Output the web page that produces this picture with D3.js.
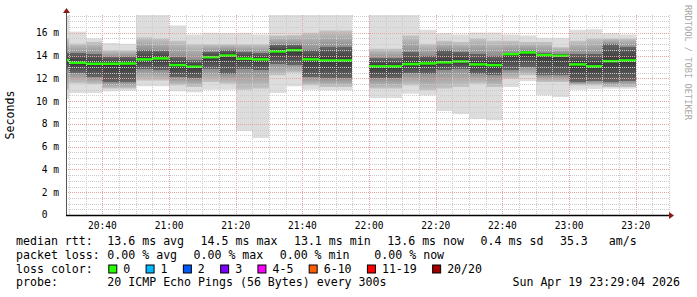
<!DOCTYPE html>
<html>
<head>
<meta charset="utf-8">
<script src="https://cdn.jsdelivr.net/npm/d3@7"></script>
<style>
  body { margin: 0; background: #fff; }
  text { font-family: "DejaVu Sans Mono", monospace; white-space: pre; }
</style>
</head>
<body>
<div id="chart"></div>
<script>
// one column per 5 minute step (start time), 21:55 has no data
var times  = ["20:25","20:30","20:35","20:40","20:45","20:50","20:55","21:00","21:05","21:10","21:15","21:20","21:25","21:30","21:35","21:40","21:45","21:50",
              "22:00","22:05","22:10","22:15","22:20","22:25","22:30","22:35","22:40","22:45","22:50","22:55","23:00","23:05","23:10","23:15"];
// rtt in ms
var minRtt = [10.2,10.7,10.7,10.86,10.92,11.3,11.3,10.86,10.77,11.0,11.0,7.38,6.77,10.71,11.3,11.0,10.95,10.95,
              10.27,10.27,10.65,10.5,9.13,8.87,8.43,8.32,11.24,11.76,10.5,10.36,11.0,11.06,11.09,11.09];
var p10    = [11.0,11.55,11.5,11.1,11.1,11.8,11.8,11.38,11.24,11.67,11.53,11.0,11.1,12.26,12.5,11.38,11.24,11.24,
              11.1,11.1,11.38,10.95,11.1,11.24,11.53,11.24,11.97,12.26,11.67,11.67,11.38,11.38,11.24,11.24];
var p30    = [12.8,12.5,12.1,11.67,11.7,12.85,12.7,12.1,12.0,12.85,12.4,12.85,12.7,13.3,13.2,12.1,12.0,12.0,
              12.0,12.0,12.43,12.4,12.7,12.85,12.4,12.26,12.7,13.0,12.26,12.26,11.67,11.8,11.67,11.8];
var median = [13.6,13.37,13.28,13.28,13.3,13.66,13.75,13.16,13.02,13.86,14.0,13.72,13.66,14.36,14.47,13.66,13.57,13.57,
              13.05,13.05,13.25,13.31,13.4,13.48,13.22,13.16,14.12,14.27,14.04,13.98,13.22,13.05,13.51,13.57];
var p70    = [14.2,14.2,14.15,13.86,13.9,14.45,14.36,13.86,13.57,14.3,14.45,14.3,14.2,14.9,14.9,14.45,14.74,14.74,
              13.75,13.75,14.27,14.0,14.45,14.3,14.15,14.0,14.25,14.4,14.2,14.15,14.15,14.15,15.0,14.74];
var p90    = [15.5,15.05,15.2,14.45,14.45,15.6,15.5,15.3,15.0,15.0,15.0,15.0,15.0,15.76,15.8,16.0,16.2,16.2,
              14.6,14.6,15.76,15.03,15.3,15.2,15.5,15.3,15.3,15.2,15.2,14.74,15.3,15.5,15.5,15.5];
var maxRtt = [17.5,16.1,15.5,15.1,15.03,17.8,17.8,16.64,15.85,16.0,15.97,16.0,15.85,17.8,17.8,17.8,17.8,17.8,
              17.8,17.8,17.8,16.26,15.97,15.85,16.02,16.02,15.85,15.76,15.56,15.56,16.26,16.31,15.97,15.85];

var yTicks = [0, 2, 4, 6, 8, 10, 12, 14, 16];
var yTickLabels = ["0  ", "2 m", "4 m", "6 m", "8 m", "10 m", "12 m", "14 m", "16 m"];

var lossLabels = ["0", "1", "2", "3", "4-5", "6-10", "11-19", "20/20"];
var lossColors = ["#26ff00", "#00b8ff", "#0059ff", "#7e00ff", "#ff00ff", "#ff5e00", "#ff0000", "#a10000"];

var rttLegend  = ["13.6 ms avg", "14.5 ms max", "13.1 ms min", "13.6 ms now", "0.4 ms sd", "35.3   am/s"];
var lossLegend = ["0.00 % avg", "0.00 % max", "0.00 % min", "0.00 % now"];
var probeText  = "20 ICMP Echo Pings (56 Bytes) every 300s";
var stampText  = "Sun Apr 19 23:29:04 2026";

var width = 697, height = 297,
    plot = {left: 66, right: 666, top: 15, bottom: 215, gridRight: 669},
    step = 5 * 60 * 1000;

var day = "2026-04-19T";
var parse = t => new Date(day + t + ":00");
var tStart = new Date(day + "20:29:04"), tEnd = new Date(day + "23:29:04");

var svg = d3.select("#chart").append("svg")
    .attr("width", width).attr("height", height)
    .style("background", "#fff");

var x = d3.scaleTime().domain([tStart, tEnd]).range([plot.left, plot.right]);
var y = d3.scaleLinear().domain([0, 17.56]).range([plot.bottom, plot.top]);

svg.append("clipPath").attr("id", "clip")
  .append("rect").attr("x", plot.left + 1).attr("y", plot.top)
  .attr("width", plot.gridRight - plot.left).attr("height", plot.bottom - plot.top);

var defs = svg.append("defs");
var cols = times.map((t, i) => ({
  t0: parse(t), min: minRtt[i], p10: p10[i], p30: p30[i], med: median[i], p70: p70[i], p90: p90[i], max: maxRtt[i], i: i
}));

// gradient per column for the inner smoke (p90 at top, p10 at bottom)
cols.forEach(d => {
  var span = y(d.p10) - y(d.p90);
  var f = v => (y(v) - y(d.p90)) / span;
  var g = defs.append("linearGradient").attr("id", "smoke" + d.i)
    .attr("x1", 0).attr("y1", 0).attr("x2", 0).attr("y2", 1);
  [[0, "#c4c4c4"], [f(d.p70), "#8e8e8e"], [f(d.p70), "#666666"], [f(d.med), "#363636"],
   [f(d.p30), "#666666"], [f(d.p30), "#8e8e8e"], [1, "#c4c4c4"]]
    .forEach(s => g.append("stop").attr("offset", s[0]).attr("stop-color", s[1]));
});

var smoke = svg.append("g").attr("clip-path", "url(#clip)");
var colX = d => Math.round(x(d.t0));
var colW = d => Math.round(x(new Date(+d.t0 + step))) - colX(d);

smoke.selectAll(".outer").data(cols).enter().append("rect")
  .attr("x", colX).attr("width", colW)
  .attr("y", d => y(d.max)).attr("height", d => y(d.min) - y(d.max))
  .attr("fill", "#dddddd");

smoke.selectAll(".inner").data(cols).enter().append("rect")
  .attr("x", colX).attr("width", colW)
  .attr("y", d => y(d.p90)).attr("height", d => y(d.p10) - y(d.p90))
  .attr("fill", d => "url(#smoke" + d.i + ")");

smoke.selectAll(".median").data(cols).enter().append("rect")
  .attr("x", colX).attr("width", colW)
  .attr("y", d => y(d.med) - 1.25).attr("height", 2.5)
  .attr("fill", lossColors[0]);

// grid
var grid = svg.append("g").attr("shape-rendering", "crispEdges");
var gridTimes = d3.timeMinute.every(5).range(tStart, new Date(day + "23:30:01"));
var isMajorT = t => t.getMinutes() % 20 === 0;
var yMinor = d3.range(0.5, 17.51, 0.5);

grid.selectAll(".vmin").data(gridTimes).enter().append("line")
  .attr("x1", d => Math.round(x(d)) + 0.5).attr("x2", d => Math.round(x(d)) + 0.5)
  .attr("y1", plot.top).attr("y2", plot.bottom)
  .attr("stroke", d => isMajorT(d) ? "#e4a4a4" : "#cccccc")
  .attr("stroke-dasharray", "1,1");

grid.selectAll(".hmin").data(yMinor.filter(v => v % 2 !== 0)).enter().append("line")
  .attr("x1", plot.left).attr("x2", plot.gridRight)
  .attr("y1", d => Math.round(y(d)) + 0.5).attr("y2", d => Math.round(y(d)) + 0.5)
  .attr("stroke", "#cccccc").attr("stroke-dasharray", "1,1");

grid.selectAll(".hmaj").data(yTicks.filter(v => v > 0)).enter().append("line")
  .attr("x1", plot.left).attr("x2", plot.gridRight)
  .attr("y1", d => Math.round(y(d)) + 0.5).attr("y2", d => Math.round(y(d)) + 0.5)
  .attr("stroke", "#e4a4a4").attr("stroke-dasharray", "1,1");

// axes
svg.append("line").attr("x1", plot.left + 0.5).attr("x2", plot.left + 0.5)
  .attr("y1", plot.bottom).attr("y2", 12).attr("stroke", "#555");
svg.append("line").attr("x1", plot.left).attr("x2", plot.gridRight + 1)
  .attr("y1", plot.bottom + 0.5).attr("y2", plot.bottom + 0.5)
  .attr("stroke", "#000").attr("stroke-width", 1.5);
svg.append("path").attr("d", "M669,212L674,215.5L669,219Z").attr("fill", "#8b1a1a");
svg.append("path").attr("d", "M63,13L66.5,8L70,13Z").attr("fill", "#8b1a1a");

svg.selectAll(".ytick").data(yTicks).enter().append("text")
  .attr("x", 59).attr("y", d => y(d)).attr("dy", "0.36em")
  .attr("text-anchor", "end").attr("xml:space", "preserve")
  .style("font-size", "9.6px").attr("fill", "#000")
  .text((d, i) => yTickLabels[i]);

svg.selectAll(".xtick").data(gridTimes.filter(isMajorT)).enter().append("text")
  .attr("x", d => x(d)).attr("y", 228.5)
  .attr("text-anchor", "middle")
  .style("font-size", "9.6px").attr("fill", "#000")
  .text(d3.timeFormat("%H:%M"));

svg.append("text")
  .attr("transform", `translate(14,${(plot.top + plot.bottom) / 2}) rotate(-90)`)
  .attr("text-anchor", "middle")
  .style("font-size", "11.6px")
  .text("Seconds");

svg.append("text")
  .attr("transform", "translate(685,5) rotate(90)")
  .style("font-size", "8.7px").attr("fill", "#a8a8a8")
  .text("RRDTOOL / TOBI OETIKER");

// legend
var cw = 11.6 * 0.602, lx = 16, vx = 107.3, gap = 16.5,
    rows = [245, 258.7, 272.5, 286.3];
var leg = svg.append("g").style("font-size", "11.6px").attr("fill", "#000");

leg.append("text").attr("x", lx).attr("y", rows[0]).text("median rtt:");
var px = vx;
rttLegend.forEach(s => { leg.append("text").attr("x", px).attr("y", rows[0]).text(s); px += s.length * cw + gap; });

leg.append("text").attr("x", lx).attr("y", rows[1]).text("packet loss:");
var lossX = [107.3, 193.5, 279.7, 374.3];
lossLegend.forEach((s, i) => leg.append("text").attr("x", lossX[i]).attr("y", rows[1]).text(s));

leg.append("text").attr("x", lx).attr("y", rows[2]).text("loss color:");
px = 108.3;
lossLabels.forEach((s, i) => {
  leg.append("rect").attr("x", px + 0.5).attr("y", rows[2] - 7.5).attr("width", 8).attr("height", 8)
    .attr("fill", lossColors[i]).attr("stroke", "#000").attr("stroke-width", 1);
  leg.append("text").attr("x", px + 15).attr("y", rows[2]).text(s);
  px += 15 + s.length * cw + 15.3;
});

leg.append("text").attr("x", lx).attr("y", rows[3]).text("probe:");
leg.append("text").attr("x", vx).attr("y", rows[3]).text(probeText);
leg.append("text").attr("x", 680).attr("y", rows[3]).attr("text-anchor", "end").text(stampText);
</script>
</body>
</html>
